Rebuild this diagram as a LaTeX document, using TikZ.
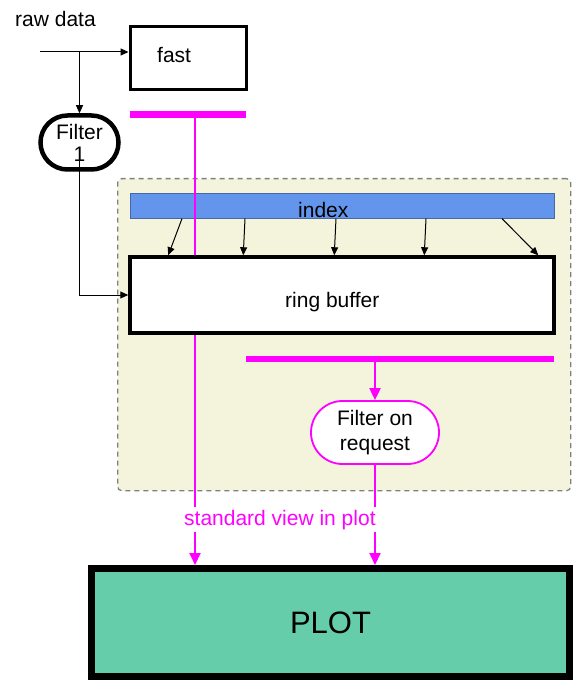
\documentclass[tikz,border=0pt]{standalone}
\usepackage{fontspec}
\setmainfont{Liberation Sans}
\usetikzlibrary{arrows.meta,calc,shapes.misc}
\definecolor{mag}{HTML}{FF00FF}
\definecolor{idxblue}{HTML}{6495ED}
\definecolor{beige}{HTML}{F4F3DC}
\definecolor{plotgreen}{HTML}{66CDAA}
\begin{document}
\begin{tikzpicture}[x=1pt,y=-1pt,
  txt/.style={font=\fontsize{21}{24}\selectfont, inner sep=0pt},
  arr/.style={-{Triangle[length=8pt,width=7pt]}, line width=1pt},
  marr/.style={draw=mag, line width=2pt, -{Triangle[length=12pt,width=11pt]}},
  bar/.style={draw=mag, line width=7pt},
  box/.style={draw, fill=white, inner sep=0pt},
  pill/.style={rounded rectangle, fill=white, inner sep=0pt, align=center}
]
\useasboundingbox (0,0) rectangle (579,684);

% container
\node[draw=gray, line width=1.3pt, dash pattern=on 5pt off 4pt, fill=beige,
  rounded corners=4pt, minimum width=453, minimum height=312, inner sep=0pt,
  anchor=north west] (cont) at (117,178) {};

% index bar
\node[fill=idxblue, draw=idxblue!70!black, line width=0.6pt, minimum width=424,
  minimum height=25, inner sep=0pt, anchor=north west] (idx) at (130,193) {};
\node[txt, anchor=base west] (idxl) at (298,218) {index};

% PLOT
\node[draw, line width=7pt, fill=plotgreen, minimum width=478, minimum height=108,
  inner sep=0pt, font=\fontsize{31}{36}\selectfont] (plot) at (330.5,622.5) {PLOT};

% magenta bar 1 and its line
\coordinate (b1l) at (130,115);
\coordinate (b1r) at (246,115);
\coordinate (b1m) at (195,115);
\draw[bar] (b1l) -- (b1r);
\draw[marr] (b1m) -- (b1m |- plot.north);

% ring buffer
\node[box, line width=3.5pt, minimum width=424, minimum height=76] (rb) at (342,295) {};
\node[txt, anchor=base west] (rbl) at (285,307) {ring buffer};

% index arrows
\draw[arr] ([xshift=52pt]idx.south west) -- ([xshift=40pt]rb.north west);
\draw[arr] ([xshift=115pt]idx.south west) -- ([xshift=115pt]rb.north west);
\draw[arr] ([xshift=206pt]idx.south west) -- ([xshift=206pt]rb.north west);
\draw[arr] ([xshift=296pt]idx.south west) -- ([xshift=296pt]rb.north west);
\draw[arr] ([xshift=372pt]idx.south west) -- ([xshift=410pt]rb.north west);

% fast
\node[box, line width=3pt, minimum width=116, minimum height=63] (fast) at (188,58.5) {};
\node[txt, anchor=base west] (fastl) at (157,63) {fast};

% raw data
\node[txt, anchor=base west] (rawl) at (15,27) {raw data};
\coordinate (raw) at (40,52);
\coordinate (split) at (79.5,52);

% Filter 1
\node[pill, draw, line width=4.5pt, minimum width=78, minimum height=54,
  font=\fontsize{21}{22}\selectfont] (f1) at (79.5,142.5) {Filter\\1};

\draw[arr] (raw) -- (raw -| fast.west);
\draw[arr] (split) -- (f1.north);
\draw[arr] ($(f1.center)+(0,8)$) |- (rb.west);

% magenta bar 2
\coordinate (b2l) at (246,359);
\coordinate (b2r) at (554,359);
\coordinate (b2m) at (375,359);
\draw[bar, line width=6pt] (b2l) -- (b2r);

% Filter on request
\node[pill, draw=mag, line width=1.8pt, minimum width=128, minimum height=63,
  font=\fontsize{21}{25}\selectfont] (for) at (375,432.5) {Filter on\\request};
\draw[marr] (b2m) -- (for.north);
\draw[marr] (for.south) -- (for.south |- plot.north);

% standard view label
\node[txt, text=mag, fill=white, inner xsep=0pt, inner ysep=3pt, anchor=base west]
  (sv) at (184,525) {standard view in plot};
\end{tikzpicture}
\end{document}
